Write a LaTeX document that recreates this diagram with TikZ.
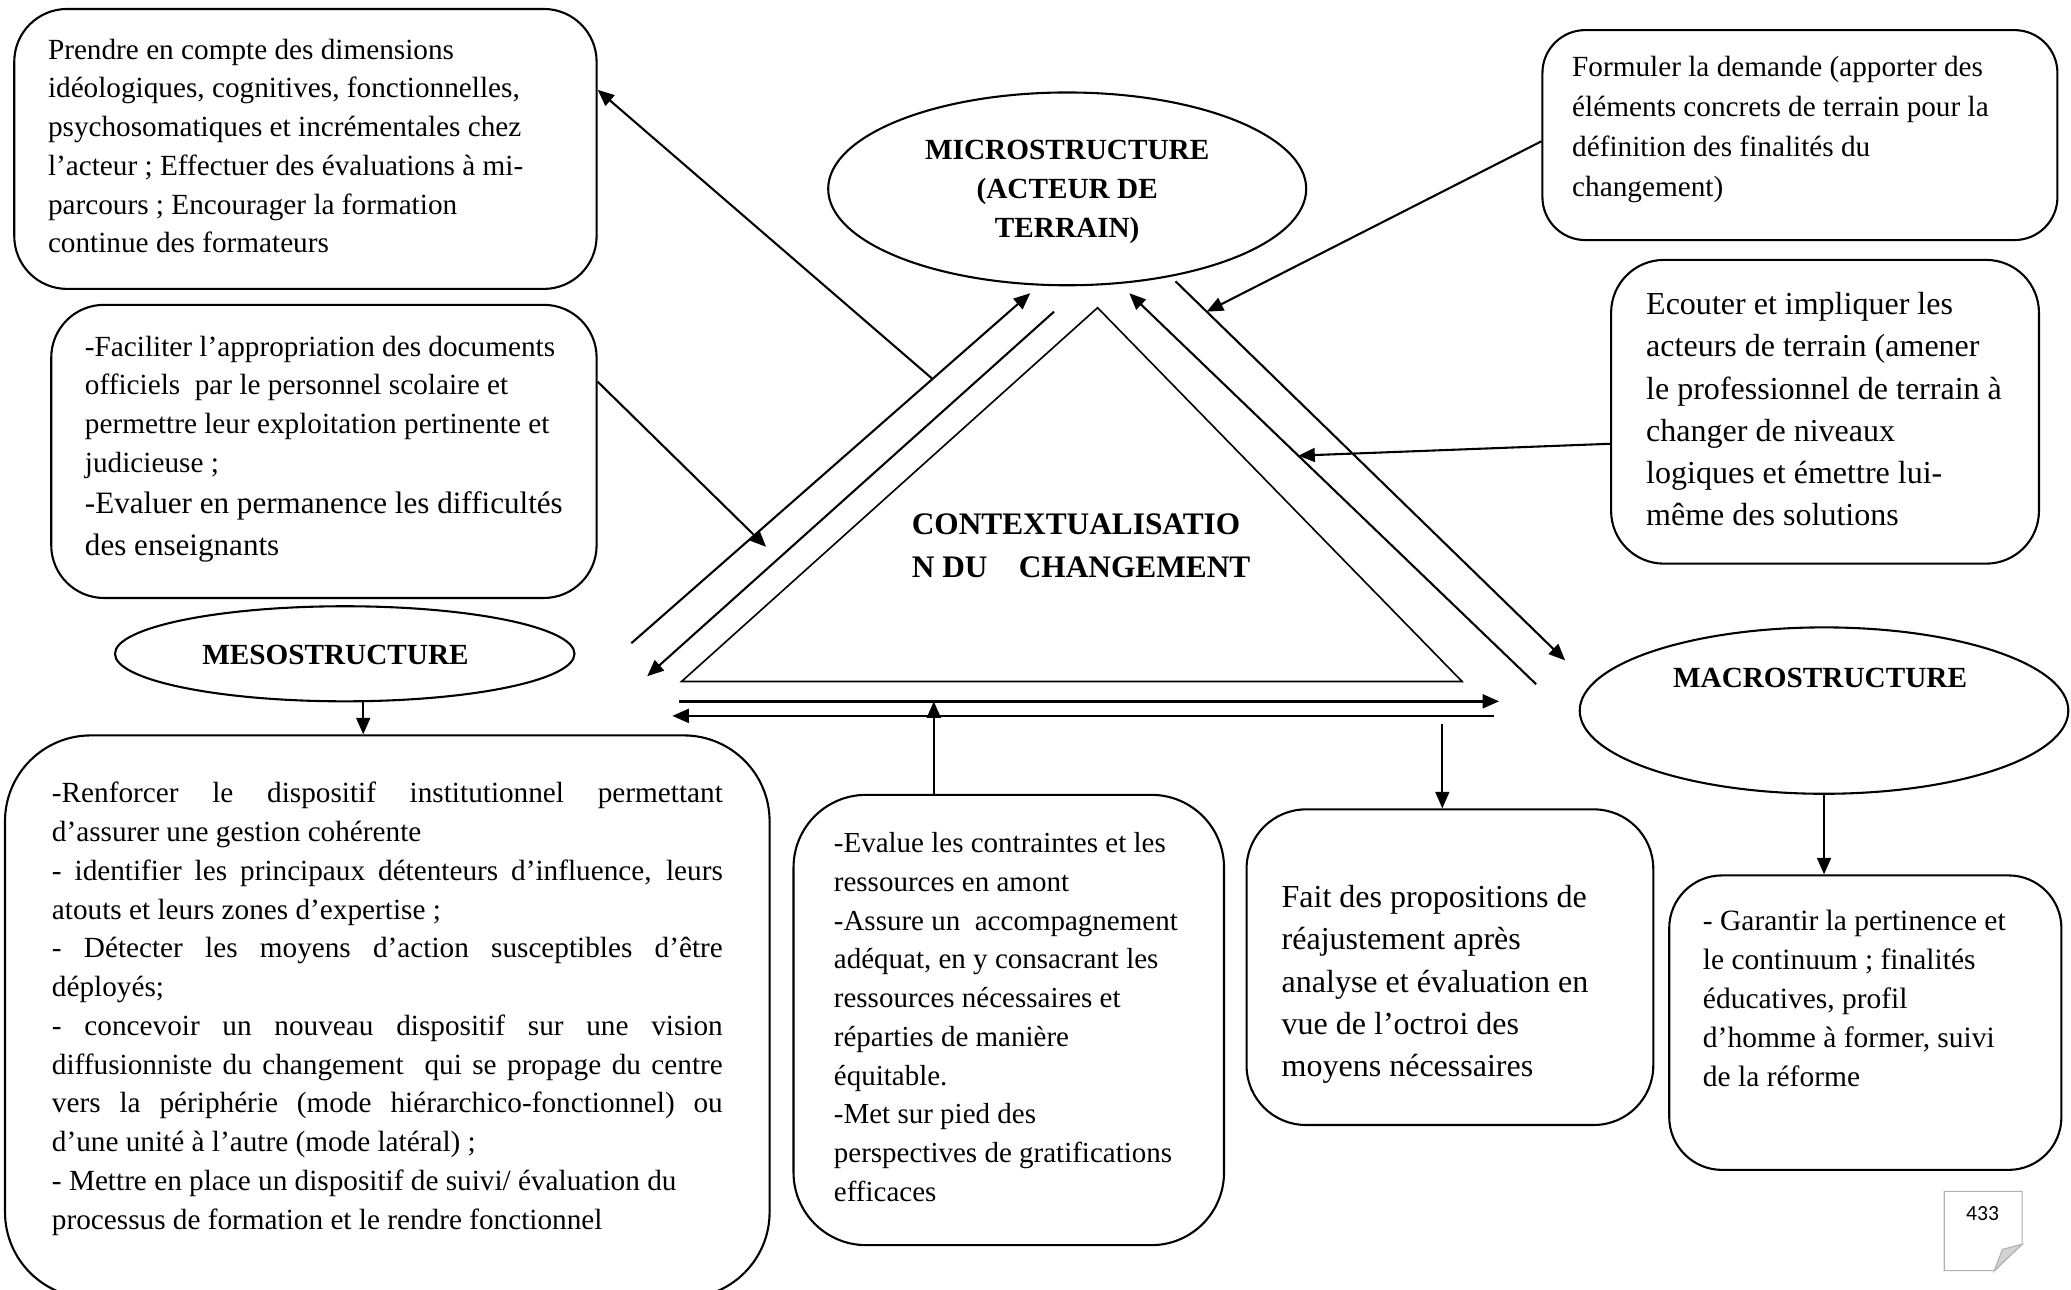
\documentclass[tikz,border=0pt]{standalone}
\usepackage{fontspec}
\setmainfont{Liberation Serif}
\newfontfamily\pagefont{Carlito}
\usetikzlibrary{arrows.meta,shapes.geometric,calc}

% justified line of the wide mesostructure box
\newcommand\justline[1]{\makebox[10.16cm][s]{#1}}
\newcommand\biglineB{\fontsize{13.4}{17.9}\selectfont}

\begin{document}
\begin{tikzpicture}[x=0.02cm, y=-0.02cm,
  >={Triangle[length=0.25cm,width=0.21cm]},
  box/.style={draw, line width=0.9pt, rounded corners=#1, inner sep=0pt, anchor=north west},
  oval/.style={draw, ellipse, line width=0.9pt, inner sep=0pt},
  body/.style={anchor=north west, inner sep=0pt, align=left, font=\fontsize{12.6}{16.7}\selectfont},
  bodybig/.style={body, font=\fontsize{13.8}{18.2}\selectfont},
  heading/.style={inner sep=0pt, align=center, font=\bfseries\fontsize{12.6}{16.8}\selectfont},
  arr/.style={->, line width=0.9pt},
]
\useasboundingbox (0,0) rectangle (1568,976);

% ---- frames of the text boxes
\node[box=0.8cm,  minimum width=8.82cm,  minimum height=4.24cm] (A) at (10,6) {};
\node[box=0.8cm,  minimum width=8.26cm,  minimum height=4.44cm] (B) at (38,230) {};
\node[box=0.65cm, minimum width=7.80cm,  minimum height=3.18cm] (C) at (1167,22) {};
\node[box=0.8cm,  minimum width=6.48cm,  minimum height=4.60cm] (D) at (1219,196) {};
\node[box=1.3cm,  minimum width=11.58cm, minimum height=8.52cm] (E) at (3,556) {};
\node[box=1.1cm,  minimum width=6.52cm,  minimum height=6.82cm] (F) at (600,601) {};
\node[box=0.9cm,  minimum width=6.16cm,  minimum height=4.78cm] (G) at (943,612) {};
\node[box=0.8cm,  minimum width=5.94cm,  minimum height=4.46cm] (H) at (1263,662) {};

% ---- texts of the boxes
\node[body] (At) at (36,29) {Prendre en compte des dimensions\\
idéologiques, cognitives, fonctionnelles,\\
psychosomatiques et incrémentales chez\\
l’acteur ; Effectuer des évaluations à mi-\\
parcours ; Encourager la formation\\
continue des formateurs};

\node[body] (Bt) at (64,254) {-Faciliter l’appropriation des documents\\
officiels\ \ par le personnel scolaire et\\
permettre leur exploitation pertinente et\\
judicieuse ;\\[0.9pt]
\biglineB -Evaluer en permanence les difficultés\\[1.5pt]
\biglineB des enseignants};

\node[body, font=\fontsize{12.6}{17.3}\selectfont] (Ct) at (1190,42) {Formuler la demande (apporter des\\
éléments concrets de terrain pour la\\
définition des finalités du\\
changement)};

\node[bodybig] (Dt) at (1246,221) {Ecouter et impliquer les\\
acteurs de terrain (amener\\
le professionnel de terrain à\\
changer de niveaux\\
logiques et émettre lui-\\
même des solutions};

\node[body] (Et) at (39,592) {\justline{-Renforcer le dispositif institutionnel permettant}\\
d’assurer une gestion cohérente\\
\justline{- identifier les principaux détenteurs d’influence, leurs}\\
atouts et leurs zones d’expertise ;\\
\justline{- Détecter les moyens d’action susceptibles d’être}\\
déployés;\\
\justline{- concevoir un nouveau dispositif sur une vision}\\
\justline{diffusionniste du changement\ \ qui se propage du centre}\\
\justline{vers la périphérie (mode hiérarchico-fonctionnel) ou}\\
d’une unité à l’autre (mode latéral) ;\\
- Mettre en place un dispositif de suivi/ évaluation du\\
processus de formation et le rendre fonctionnel};

\node[body, font=\fontsize{12.5}{16.7}\selectfont] (Ft) at (631,630) {-Evalue les contraintes et les\\
ressources en amont\\
-Assure un\ \ accompagnement\\
adéquat, en y consacrant les\\
ressources nécessaires et\\
réparties de manière\\
équitable.\\
-Met sur pied des\\
perspectives de gratifications\\
efficaces};

\node[bodybig] (Gt) at (970,670) {Fait des propositions de\\
réajustement après\\
analyse et évaluation en\\
vue de l’octroi des\\
moyens nécessaires};

\node[body, font=\fontsize{12.7}{16.8}\selectfont] (Ht) at (1289,689) {- Garantir la pertinence et\\
le continuum ; finalités\\
éducatives, profil\\
d’homme à former, suivi\\
de la réforme};

% ---- the three structures
\node[oval, minimum width=7.24cm, minimum height=2.92cm] (micro) at (808,143) {};
\node[heading] (microt) at (808,145) {MICROSTRUCTURE\\(ACTEUR DE\\TERRAIN)};
\node[oval, minimum width=6.96cm, minimum height=1.44cm] (meso) at (261,495) {};
\node[heading] (mesot) at (254,496) {MESOSTRUCTURE};
\node[oval, minimum width=7.40cm, minimum height=2.52cm] (macro) at (1381,538) {};
\node[heading] (macrot) at (1378,513) {MACROSTRUCTURE};

% ---- central triangle
\coordinate (tTop) at (831,233);
\coordinate (tL) at (516,516);
\coordinate (tR) at (1107,516);
\draw[line width=0.7pt] (tTop) -- (tL) -- (tR) -- cycle;
\node[anchor=north west, inner sep=0pt, align=left,
      font=\bfseries\fontsize{13.5}{18.2}\selectfont] (ctx) at (690,389)
      {CONTEXTUALISATIO\\N DU\ \ \ \ CHANGEMENT};

% ---- flows along the sides of the triangle
\coordinate (L1a) at (478,487);  \coordinate (L1b) at (780,222);
\coordinate (L2a) at (798,236);  \coordinate (L2b) at (490,512);
\coordinate (R1a) at (1163,518); \coordinate (R1b) at (855,222);
\coordinate (R2a) at (890,213);  \coordinate (R2b) at (1185,500);
\coordinate (H1a) at (514,531);  \coordinate (H1b) at (1135,531);
\coordinate (H2a) at (1131,542); \coordinate (H2b) at (509,542);
\draw[arr] (L1a) -- (L1b);
\draw[arr] (L2a) -- (L2b);
\draw[arr] (R1a) -- (R1b);
\draw[arr] (R2a) -- (R2b);
\draw[arr, line width=1.05pt] (H1a) -- (H1b);
\draw[arr, line width=1.05pt] (H2a) -- (H2b);

% ---- links between boxes and flows
\coordinate (aFoot) at ($(L1a)!0.755!(L1b)$);
\draw[arr] (aFoot) -- (A.east |- 0,68);
\coordinate (bTip) at (580,414);
\draw[arr] (B.east |- 0,289) -- (bTip);
\coordinate (cTip) at ($(R2a)!0.08!(R2b)$);
\draw[arr] (C.west |- 0,107) -- (cTip);
\coordinate (dTip) at ($(R1b)!0.4155!(R1a)$);
\draw[arr] (D.west |- 0,336) -- (dTip);
\coordinate (fTip) at (707,531);
\draw[arr] (F.north -| fTip) -- (fTip);
\coordinate (gTail) at (1092,548);
\draw[arr] (gTail) -- (G.north -| gTail);
\draw[arr] (meso.south -| 275,0) -- (E.north -| 275,0);
\draw[arr] (macro.south) -- (macro.south |- H.north);

% ---- page number sheet
\draw[gray!60, fill=white, line width=0.5pt] (1472,902) -- (1531,902) -- (1531,942) -- (1510,962) -- (1472,962) -- cycle;
\draw[gray!60, fill=gray!35, line width=0.5pt] (1531,942) -- (1516,946) -- (1510,962) -- cycle;
\node[inner sep=0pt, font=\pagefont\fontsize{9.3}{11}\selectfont] (pg) at (1501,919) {433};
\end{tikzpicture}
\end{document}
